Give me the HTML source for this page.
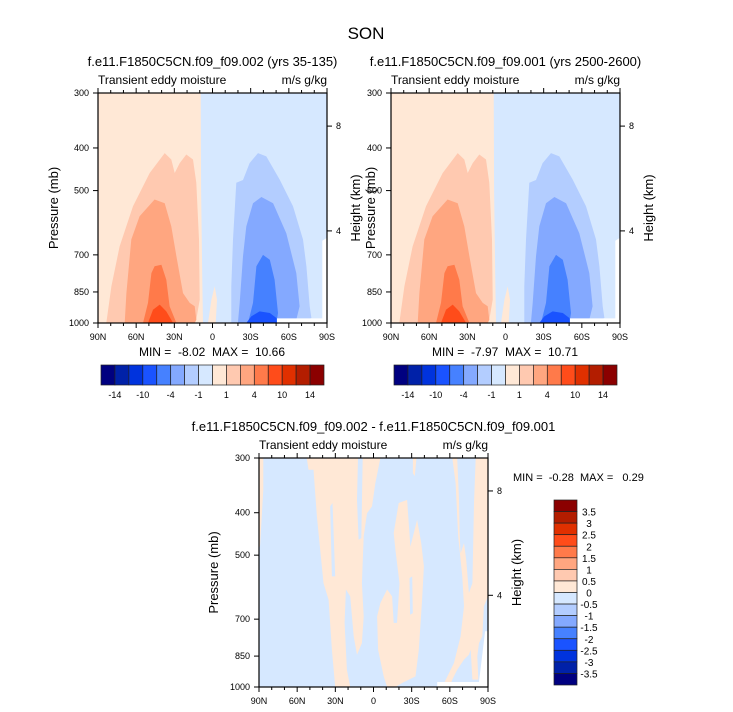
<!DOCTYPE html>
<html><head><meta charset="utf-8"><style>
body{margin:0;background:#fff;}
svg{display:block;font-family:"Liberation Sans",Arial,sans-serif;}
text{white-space:pre;}
</style></head><body>
<svg id="chart" width="733" height="712" viewBox="0 0 733 712" xmlns="http://www.w3.org/2000/svg" xml:space="preserve">
<text x="366" y="39" font-size="17" text-anchor="middle">SON</text>
</svg>
<script>
// ---------- data ----------
const colors16 = ["#000080","#0021a8","#0033dd","#1a53ff","#4681ff","#84a9ff","#b3cdff","#d6e8ff","#ffe8d6","#ffc9b0","#ffa680","#ff7a4a","#ff4c1a","#e03000","#b31d00","#8b0000"];
const hLabels = ["-14","-10","-4","-1","1","4","10","14"];
const vLabels = ["3.5","3","2.5","2","1.5","1","0.5","0","-0.5","-1","-1.5","-2","-2.5","-3","-3.5"];
const pTicks = [300,400,500,700,850,1000];
const latTicks = [90,60,30,0,-30,-60,-90];
const latTickLabels = ["90N","60N","30N","0","30S","60S","90S"];
const hTicks = [8,4];
const minMax1 = ["-8.02","10.66"];
const minMax2 = ["-7.97","10.71"];
const minMax3 = ["-0.28","0.29"];
// contour polygons [lat, pressure]
const pos1 = [[83.5,1000],[79.5,825],[73,670],[62.5,543],[49.4,456],[37.6,411],[32.4,425],[29.7,456],[25.8,433],[20.6,414],[15.3,425],[12.7,480],[10.6,646],[10.1,885],[12.7,983],[14,1000]];
const pos4 = [[69,1000],[67.7,855],[63.8,646],[57.3,572],[45.5,524],[37.6,534],[32.4,603],[28.4,705],[23.2,855],[17.9,900],[14,916],[12.7,983],[14,1000]];
const pos10 = [[54.6,1000],[50.7,900],[48,770],[45.5,743],[40.2,737],[36.3,797],[33.7,916],[28.4,1000]];
const pos14 = [[50.7,1000],[46.8,933],[41.5,908],[36.3,941],[31,1000]];
const neg1 = [[-14.8,1000],[-14.8,825],[-16.1,646],[-18.7,480],[-24,473],[-29.2,433],[-35.8,411],[-42.3,418],[-52.8,472],[-63.3,543],[-71.1,646],[-73.8,743],[-76.4,916],[-77.7,974],[-68.5,1000]];
const neg4 = [[-20,1000],[-21.4,900],[-24,705],[-26.6,603],[-31.8,534],[-38.4,517],[-47.6,534],[-58,625],[-65.9,770],[-68.5,916],[-65.9,983],[-63.3,1000]];
const neg10 = [[-27.9,1000],[-31.8,900],[-34.5,743],[-39.7,700],[-45,718],[-48.8,797],[-51.5,949],[-50.2,1000]];
const neg14 = [[-26.6,1000],[-30.5,966],[-37,941],[-45,949],[-50.2,974],[-50.7,1000]];
const finger = [[3.5,1000],[0.9,885],[-1.7,825],[-3.5,885],[-2.5,1000]];
const missing1 = [[-50.7,1000],[-50.7,976],[-86.3,976],[-86.3,650],[-90,640],[-90,1000]];
const posBoundary = [[90,300],[9.3,300],[9,500],[8,800],[7.5,1000],[90,1000]];
// difference panel
const dA = [[90,300],[86.6,300],[86.6,355],[89.2,478],[90,478]];
const dB = [[52.4,300],[12.2,300],[13,374],[11.7,461],[9.6,457],[8.5,300],[-5.4,300],[-1.5,342],[1.2,387],[5.1,401],[7.7,453],[9.1,579],[7.7,690],[9.1,794],[13,844],[15.6,766],[18.3,621],[21.7,599],[22.7,714],[20.9,913],[18.3,1000],[30.1,1000],[32.7,822],[35.3,632],[39.3,579],[44.5,408],[47.2,319],[51.1,319]];
const dBhole = [[34,387],[32.2,380],[30.1,559],[32.7,559]];
const dC = [[-19.8,380],[-26.4,374],[-29,478],[-34.3,415],[-37.5,469],[-39.6,530],[-38.2,632],[-35.6,822],[-33,946],[-22.5,979],[-17.2,1000],[-10.7,1000],[-8,946],[-3.6,822],[-2.8,690],[-5.4,643],[-10.7,599],[-14.6,621],[-15.9,714],[-18.5,714],[-20.4,579],[-17.2,486],[-15.9,445]];
const dChole = [[-28.3,564],[-30.4,559],[-30.9,678],[-28.8,684]];
const dCtop = [[-31,300],[-33.8,300],[-32.5,330],[-31,325]];
const dD = [[-61.9,300],[-65.8,300],[-67.2,374],[-67.7,445],[-68.5,495],[-71.1,469],[-72.9,512],[-75,610],[-77.7,579],[-79,380],[-80.3,300],[-90,300],[-90,621],[-86.8,654],[-85.5,766],[-82.9,794],[-81.6,851],[-82.4,962],[-77.7,962],[-76.4,822],[-75,844],[-71.1,866],[-65.8,913],[-61.9,962],[-59.8,1000],[-54,1000],[-63.2,882],[-68.5,766],[-71.1,654],[-69.8,559],[-66.6,453],[-64.5,342]];
const missing3 = [[-50.1,1000],[-50.1,974],[-82.9,974],[-87.7,746],[-90,746],[-90,1000]];

const svg = document.getElementById('chart');
const NS = "http://www.w3.org/2000/svg";
function mk(tag, attrs, parent){const e=document.createElementNS(NS,tag);for(const k in attrs)e.setAttribute(k,attrs[k]);(parent||svg).appendChild(e);return e;}
function txt(x,y,s,size,anchor,parent){const t=mk('text',{x:x,y:y,'font-size':size,'text-anchor':anchor||'middle'},parent);t.textContent=s;return t;}

function panel(x0,y0,w,h,opts){
  const g=mk('g',{});
  
  
  const X=lat=>x0+(90-lat)/180*w;
  const Y=p=>y0+h-Math.log(1000/p)/Math.log(1000/300)*h;
  const Hy=km=>y0+h-(km*26.2-12.7)*(h/230);
  const poly=(pts,fill,name)=>{const e=mk('polygon',{points:pts.map(d=>X(d[0]).toFixed(1)+','+Y(d[1]).toFixed(1)).join(' '),fill:fill},g);
    
    return e;};
  const bg=mk('rect',{x:x0,y:y0,width:w,height:h,fill:colors16[7]},g);
  
  
  opts.draw(poly);
  const fr=mk('rect',{x:x0,y:y0,width:w,height:h,fill:'none',stroke:'#000','stroke-width':1.2},g);
  
  
  for(let l=90;l>=-90;l-=10){const maj=l%30===0;const L=maj?5:3;
    mk('line',{x1:X(l),x2:X(l),y1:y0+h,y2:y0+h+L,stroke:'#000','stroke-width':1},g);
    mk('line',{x1:X(l),x2:X(l),y1:y0,y2:y0-L,stroke:'#000','stroke-width':1},g);}
  latTicks.forEach((l,i)=>{const t=txt(X(l),y0+h+17,latTickLabels[i],9,'middle',g);
    
    });
  pTicks.forEach(p=>{mk('line',{x1:x0-5,x2:x0,y1:Y(p),y2:Y(p),stroke:'#000','stroke-width':1},g);
    const t=txt(x0-9,Y(p)+3,String(p),9,'end',g);
    
    });
  hTicks.forEach(k=>{mk('line',{x1:x0+w,x2:x0+w+5,y1:Hy(k),y2:Hy(k),stroke:'#000','stroke-width':1},g);
    const t=txt(x0+w+9,Hy(k)+3,String(k),9,'start',g);
    
    });
  const yt=txt(0,0,'Pressure (mb)',13,'middle',g);yt.setAttribute('transform',`translate(${x0-opts.pOff},${y0+h/2}) rotate(-90)`);
  
  
  const ht=txt(0,0,'Height (km)',13,'middle',g);ht.setAttribute('transform',`translate(${x0+w+33},${y0+h/2}) rotate(-90)`);
  
  
  const t1=txt(x0,y0-9,'Transient eddy moisture',12,'start',g);
  
  
  const t2=txt(x0+w,y0-9,'m/s g/kg',12,'end',g);
  
  
  const t3=txt(x0+w/2,y0-27,opts.title,13,'middle',g);
  
  
  return g;
}
function drawClim(poly){
  poly(posBoundary,colors16[8],'positive-region');
  poly(pos1,colors16[9],'contour-pos-1');
  poly(pos4,colors16[10],'contour-pos-4');
  poly(pos10,colors16[11],'contour-pos-10');
  poly(pos14,colors16[12],'contour-pos-14');
  poly(neg1,colors16[6],'contour-neg-1');
  poly(neg4,colors16[5],'contour-neg-4');
  poly(neg10,colors16[4],'contour-neg-10');
  poly(neg14,colors16[3],'contour-neg-14');
  poly(finger,colors16[8],'equator-positive');
  poly(missing1,'#ffffff','missing-data');
}
function drawDiff(poly){
  poly(dA,colors16[8],'diff-pos-a');
  poly(dB,colors16[8],'diff-pos-b');
  poly(dBhole,colors16[7],'diff-neg-hole-b');
  poly(dC,colors16[8],'diff-pos-c');
  poly(dChole,colors16[7],'diff-neg-hole-c');
  poly(dCtop,colors16[8],'diff-pos-c-top');
  poly(dD,colors16[8],'diff-pos-d');
  poly(missing3,'#ffffff','missing-data');
}
function hbar(x0,y0,w,h,name){
  const g=mk('g',{});
  
  
  const bw=w/colors16.length;
  colors16.forEach((c,i)=>{const r=mk('rect',{x:x0+i*bw,y:y0,width:bw,height:h,fill:c,stroke:'#222','stroke-width':0.7},g);
    
    });
  hLabels.forEach((s,i)=>{const t=txt(x0+(2*i+1)*bw,y0+h+13,s,9,'middle',g);
    
    });
}
function vbar(x0,y0,w,h,name){
  const g=mk('g',{});
  
  
  const bh=h/colors16.length;
  colors16.slice().reverse().forEach((c,i)=>{const r=mk('rect',{x:x0,y:y0+i*bh,width:w,height:bh,fill:c,stroke:'#222','stroke-width':0.7},g);
    
    });
  vLabels.forEach((s,i)=>{const t=txt(x0+w+12,y0+(i+1)*bh+4,s,10,'middle',g);
    
    });
}
panel(98,93,229,230,{name:'panel-002',pOff:40,title:'f.e11.F1850C5CN.f09_f09.002 (yrs 35-135)',draw:drawClim});
panel(391,93,229,230,{name:'panel-001',pOff:16,title:'f.e11.F1850C5CN.f09_f09.001 (yrs 2500-2600)',draw:drawClim});
panel(259,458,229,229,{name:'panel-diff',pOff:41,title:'f.e11.F1850C5CN.f09_f09.002 - f.e11.F1850C5CN.f09_f09.001',draw:drawDiff});
let m;
m=txt(212,356,`MIN =  ${minMax1[0]}  MAX =  ${minMax1[1]}`,12,'middle');


m=txt(505,356,`MIN =  ${minMax2[0]}  MAX =  ${minMax2[1]}`,12,'middle');


m=txt(513,481,`MIN =  ${minMax3[0]}  MAX =   ${minMax3[1]}`,11,'start');


hbar(101,365,223,20,'colorbar-left');
hbar(394,365,223,20,'colorbar-right');
vbar(554,500,23,185,'colorbar-diff');
</script>
</body></html>
